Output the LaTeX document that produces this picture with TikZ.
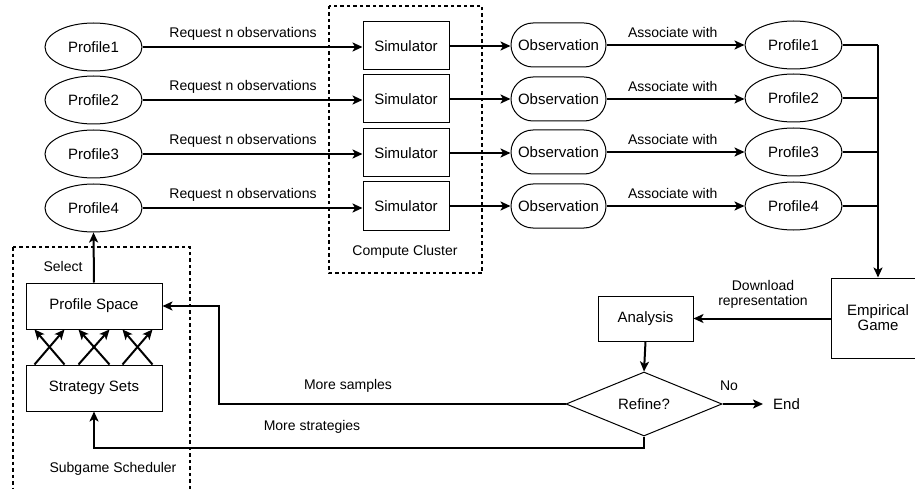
\documentclass[tikz,border=0pt]{standalone}
\usepackage{fontspec}
\setmainfont{Liberation Sans}
\usetikzlibrary{shapes.geometric,shapes.misc,arrows.meta,calc}
\begin{document}
\begin{tikzpicture}[x=1pt,y=-1pt,
  nodefont/.style={font=\fontsize{15}{17}\selectfont},
  prof/.style={ellipse,draw,line width=1pt,minimum width=97pt,minimum height=48pt,inner sep=0pt,nodefont},
  sim/.style={rectangle,draw,line width=1pt,minimum width=86pt,minimum height=48pt,inner sep=0pt,nodefont},
  obs/.style={rounded rectangle,draw,line width=1pt,minimum width=95pt,minimum height=44pt,inner sep=0pt,nodefont},
  boxnode/.style={rectangle,draw,line width=1pt,inner sep=0pt,nodefont},
  lbl/.style={font=\fontsize{14}{16}\selectfont,inner sep=0pt,align=center},
  arr/.style={line width=2pt,-{Stealth[length=10pt,width=9pt,inset=2.5pt]}},
  ln/.style={line width=2pt},
  grp/.style={line width=1.6pt,dash pattern=on 3.5pt off 3pt}]
\clip (0,0) rectangle (915,489);
\fill[white] (0,0) rectangle (915,489);
% group boxes
\draw[grp] (329,6) rectangle (482,273);
\node[lbl] (cclbl) at (405,252) {Compute Cluster};
\draw[grp] (13,247) rectangle (190,520);
\node[lbl] (sslbl) at (113,469) {Subgame Scheduler};
% left profiles
\node[prof] (pl1) at (93.5,47) {Profile1};
\node[prof] (pl2) at (93.5,100) {Profile2};
\node[prof] (pl3) at (93.5,154) {Profile3};
\node[prof] (pl4) at (93.5,208) {Profile4};
% simulators
\node[sim] (sim1) at (406,46) {Simulator};
\node[sim] (sim2) at (406,99) {Simulator};
\node[sim] (sim3) at (406,153) {Simulator};
\node[sim] (sim4) at (406,206) {Simulator};
% observations
\node[obs] (obs1) at (558.5,45) {Observation};
\node[obs] (obs2) at (558.5,99) {Observation};
\node[obs] (obs3) at (558.5,152) {Observation};
\node[obs] (obs4) at (558.5,206) {Observation};
% right profiles
\node[prof] (pr1) at (793.5,45) {Profile1};
\node[prof] (pr2) at (793.5,98) {Profile2};
\node[prof] (pr3) at (793.5,152) {Profile3};
\node[prof] (pr4) at (793.5,206) {Profile4};
% lower nodes
\node[boxnode,minimum width=94pt,minimum height=80pt,align=center] (emp) at (878,318) {Empirical\\[-2pt]Game};
\node[boxnode,minimum width=95pt,minimum height=45pt] (ana) at (645.5,318.5) {Analysis};
\node[diamond,draw,line width=1pt,minimum width=156pt,minimum height=64pt,inner sep=0pt,nodefont] (ref) at (644,404) {Refine?};
\node[lbl,font=\fontsize{15}{17}\selectfont,anchor=west] (end) at (773,404) {End};
\node[boxnode,minimum width=136pt,minimum height=46pt] (ps) at (94,306) {Profile Space};
\node[boxnode,minimum width=136pt,minimum height=46pt] (ss) at (94,388) {Strategy Sets};
% request arrows
\foreach \i in {1,2,3,4}{
  \draw[arr] (pl\i.east) -- (pl\i.east -| sim\i.west);
  \node[lbl] (rq\i) at ($(pl\i.east)!0.457!(pl\i.east -| sim\i.west) + (0,-13)$) {Request n observations};
  \draw[arr] (sim\i.east) -- (sim\i.east -| obs\i.west);
  \draw[arr] (obs\i.east) -- (obs\i.east -| pr\i.west);
  \node[lbl] (as\i) at ($(obs\i.east)!0.48!(obs\i.east -| pr\i.west) + (0,-12.5)$) {Associate with};
  \draw[ln] (pr\i.east) -- (pr\i.east -| emp.north);
}
\draw[arr] (pr1.east -| emp.north) -- (emp.north);
% lower flow
\draw[arr] (emp.west |- ana.east) -- (ana.east);
\node[lbl] (dl) at (763,294.5) {Download\\[-1pt]representation};
\draw[arr] (ana.south) -- (ref.north);
\draw[arr] (ref.east) -- ($(end.west)+(-10,0)$);
\node[lbl] (no) at (729,386) {No};
\coordinate (ms1) at (219,404);
\coordinate (ms2) at (219,306);
\draw[arr] (ref.west) -- (ms1) -- (ms2) -- (ps.east);
\node[lbl] (mslbl) at (348,386) {More samples};
\coordinate (st1) at (644,448);
\coordinate (st2) at (94,448);
\draw[arr] (ref.south) -- (st1) -- (st2) -- (ss.south);
\node[lbl] (stlbl) at (312,427) {More strategies};
\draw[arr] (ps.north) -- (pl4.south);
\node[lbl] (sel) at (63,266) {Select};
% cross arrows
\foreach \a/\b in {9/39,39/9,53/84,84/53,97/127,127/97}{
  \draw[arr] ([xshift=\a pt]ss.north west) -- ([xshift=\b pt]ps.south west);
}
\end{tikzpicture}
\end{document}
